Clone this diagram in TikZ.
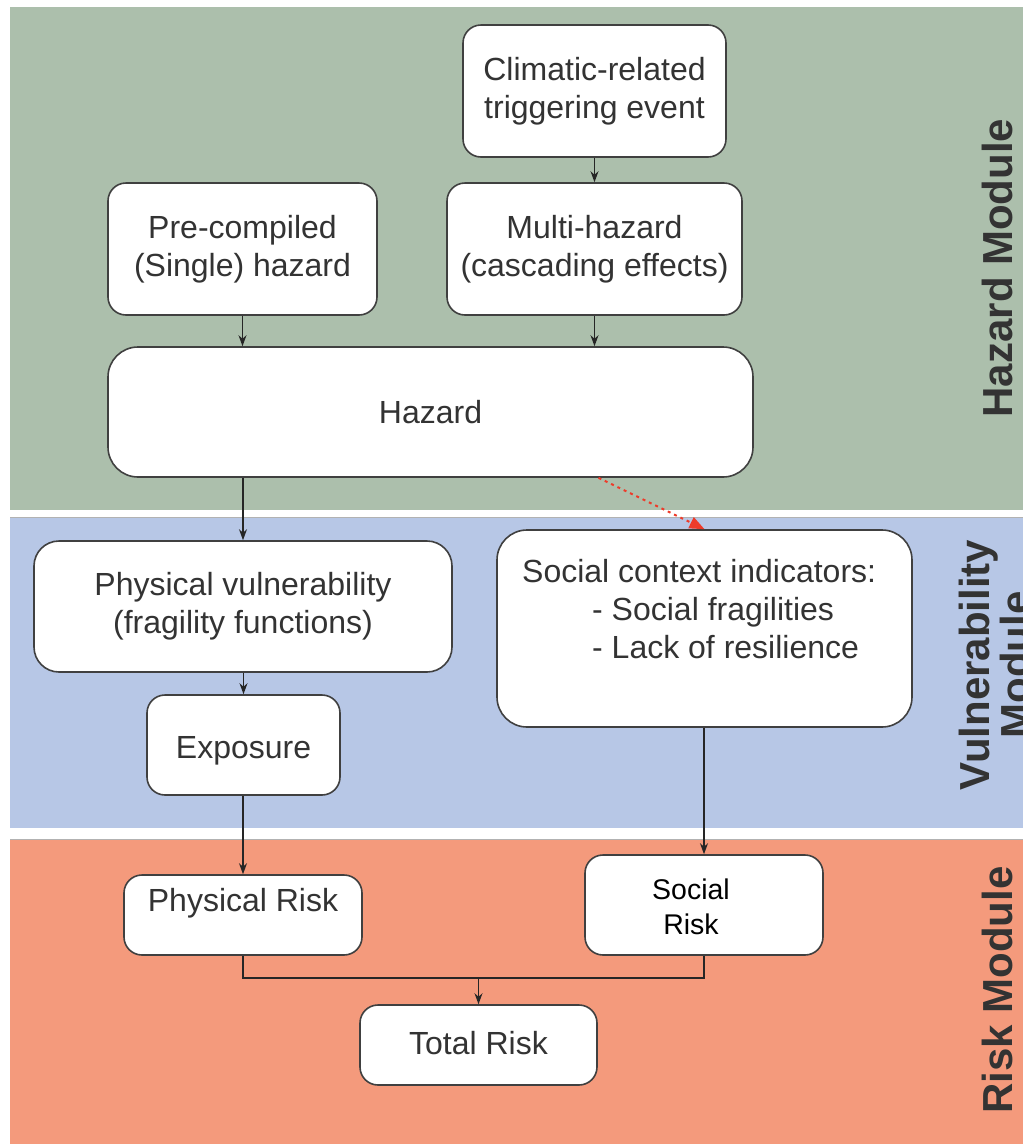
\documentclass[tikz,border=0pt]{standalone}
\usepackage{fontspec}
\setmainfont{Liberation Sans}
\usetikzlibrary{arrows.meta,calc}

\definecolor{hazardbg}{HTML}{ACBFAC}
\definecolor{vulnbg}{HTML}{B7C7E6}
\definecolor{riskbg}{HTML}{F49A7C}
\definecolor{inkgray}{HTML}{333333}
\definecolor{edgegray}{HTML}{404040}
\definecolor{alertred}{HTML}{EE3B2A}

\begin{document}
\begin{tikzpicture}[x=1pt,y=-1pt,
  box/.style={draw=edgegray, line width=1.6pt, fill=white, rounded corners=18pt,
    inner sep=0pt, align=center, text=inkgray, font=\fontsize{32}{38}\selectfont},
  lbl/.style={inner sep=0pt, align=center, text=inkgray, font=\fontsize{32}{38}\selectfont},
  flow/.style={draw=black!85, line width=1.4pt, -{Stealth[length=11pt,width=8pt]}},
  joinline/.style={draw=black!85, line width=1.4pt},
  hint/.style={draw=alertred, line width=2pt, dash pattern=on 3pt off 4pt,
    -{Triangle[length=15pt,width=12pt]}},
  modlabel/.style={rotate=90, inner sep=0pt, align=center, text=black!80,
    font=\fontsize{42}{41.5}\selectfont\bfseries}
]
% canvas and module bands
\clip (0,0) rectangle (1023,1144);
\fill[white] (0,0) rectangle (1023,1144);
\fill[hazardbg] (10,7) rectangle (1023,510);
\fill[vulnbg] (10,517) rectangle (1023,828);
\fill[riskbg] (10,839) rectangle (1023,1144);
\draw[black!30, line width=1pt] (10,517) -- (1023,517);
\draw[black!30, line width=1pt] (10,839) -- (1023,839);

% module titles
\node[modlabel, anchor=base] (hazmod) at (1012,268) {Hazard Module};
\node[modlabel] (vulnmod) at (995,665) {Vulnerability\\Module};
\node[modlabel, anchor=base] (riskmod) at (1012,990) {Risk Module};

% hazard module
\node[box, minimum width=263pt, minimum height=132pt] (clim) at (594.5,91)
  {Climatic-related\\triggering event};
\node[box, minimum width=269pt, minimum height=132pt] (pre) at (242.5,249)
  {Pre-compiled\\(Single) hazard};
\node[box, minimum width=295pt, minimum height=132pt] (multi) at (594.5,249)
  {Multi-hazard\\(cascading effects)};
\node[box, rounded corners=30pt, minimum width=645pt, minimum height=130pt] (haz) at (430.5,412)
  {Hazard};

% vulnerability module
\node[box, rounded corners=25pt, minimum width=418pt, minimum height=131pt] (pvul) at (243,606.5)
  {Physical vulnerability\\(fragility functions)};
\node[box, rounded corners=30pt, minimum width=415pt, minimum height=197pt] (soc) at (704.5,628.5) {};
\node[lbl, align=left, anchor=west] (soctxt) at (522,609)
  {Social context indicators:\\\hspace*{70pt}- Social fragilities\\\hspace*{70pt}- Lack of resilience};
\node[box, minimum width=193pt, minimum height=100pt] (expo) at (243.5,745) {};
\node[lbl] (expotxt) at (243.5,751) {Exposure};

% risk module
\node[box, minimum width=238pt, minimum height=80pt] (prisk) at (243,915) {};
\node[lbl] (prisktxt) at (243,903) {Physical Risk};
\node[box, minimum width=238pt, minimum height=100pt] (srisk) at (704,905) {};
\node[lbl, text=black, font=\fontsize{28.5}{35}\selectfont] (srisktxt) at (691,907) {Social\\Risk};
\node[box, minimum width=237pt, minimum height=80pt] (total) at (478.5,1045) {};
\node[lbl] (totaltxt) at (478.5,1043) {Total Risk};

% connectors
\draw[flow] (clim.south) -- (multi.north);
\draw[flow] (pre.south) -- (pre.south |- haz.north);
\draw[flow] (multi.south) -- (multi.south |- haz.north);
\draw[flow] (pvul.north |- haz.south) -- (pvul.north);
\draw[flow] (expo.north |- pvul.south) -- (expo.north);
\draw[flow] (prisk.north |- expo.south) -- (prisk.north);
\draw[flow] (srisk.north |- soc.south) -- (srisk.north);
\coordinate (join) at ($(prisk.south)+(0,22)$);
\draw[joinline] (prisk.south) -- (join) -| (srisk.south);
\draw[flow] (total.north |- join) -- (total.north);
\draw[hint] ($(haz.south)+(168,0)$) -- (soc.north);
\end{tikzpicture}
\end{document}
